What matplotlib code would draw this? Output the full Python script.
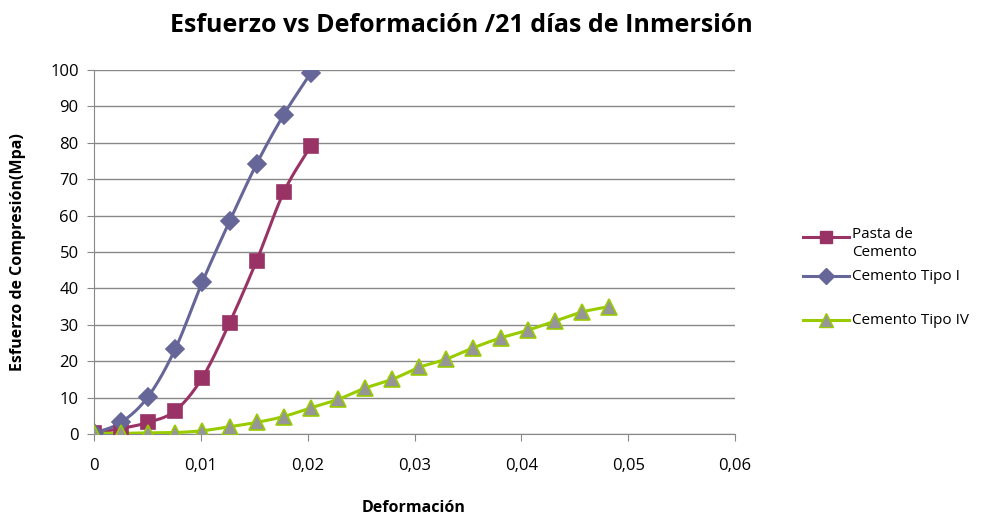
import numpy as np
import matplotlib.pyplot as plt
from matplotlib.lines import Line2D
from matplotlib.ticker import FuncFormatter

# Data
step = 0.002537
x_short = [i * step for i in range(9)]
x_long = [i * step for i in range(20)]

pasta = [0.2, 1.5, 3.2, 6.4, 15.5, 30.5, 47.6, 66.4, 79.2]
tipo_1 = [0.2, 3.2, 10.3, 23.4, 41.8, 58.4, 74.2, 87.7, 99.2]
tipo_4 = [0.2, 0.2, 0.3, 0.4, 0.9, 2.0, 3.2, 4.8, 7.2, 9.5,
          12.6, 15.0, 18.3, 20.6, 23.7, 26.4, 28.5, 31.0, 33.5, 35.0]

labels = ['Pasta de\nCemento', 'Cemento Tipo I', 'Cemento Tipo IV']


def smooth(x, y, n=20):
    # Catmull-Rom curve through the points, like Excel's smoothed line
    x = np.asarray(x, float)
    y = np.asarray(y, float)
    px = np.concatenate([[2 * x[0] - x[1]], x, [2 * x[-1] - x[-2]]])
    py = np.concatenate([[2 * y[0] - y[1]], y, [2 * y[-1] - y[-2]]])
    xs, ys = [], []
    t = np.linspace(0, 1, n, endpoint=False)
    for i in range(1, len(px) - 2):
        for p, out in ((px, xs), (py, ys)):
            p0, p1, p2, p3 = p[i - 1], p[i], p[i + 1], p[i + 2]
            out.extend(0.5 * ((2 * p1) + (-p0 + p2) * t
                              + (2 * p0 - 5 * p1 + 4 * p2 - p3) * t ** 2
                              + (-p0 + 3 * p1 - 3 * p2 + p3) * t ** 3))
    xs.append(x[-1])
    ys.append(y[-1])
    return xs, ys


plt.rcParams['font.family'] = ['Open Sans', 'DejaVu Sans']

W, H = 998, 520
fig = plt.figure(figsize=(W / 100, H / 100), dpi=100)
ax = fig.add_axes([94 / W, 86 / H, 641 / W, 364 / H])

pink = '#993366'
blue = '#666699'
green = '#99CC00'

series = [
    (x_short, pasta, pink, 's', pink, pink, 10),
    (x_short, tipo_1, blue, 'D', blue, blue, 9),
    (x_long, tipo_4, green, '^', '#969696', green, 12),
]
for xs, ys, c, m, fc, ec, ms in series:
    sx, sy = smooth(xs, ys)
    ax.plot(sx, sy, color=c, lw=2.2, zorder=3, solid_capstyle='round')
    ax.plot(xs, ys, linestyle='none', marker=m, markersize=ms,
            markerfacecolor=fc, markeredgecolor=ec, markeredgewidth=1.2, zorder=4)

ax.set_xlim(0, 0.06)
ax.set_ylim(0, 100)
ax.set_xticks(np.arange(0, 0.061, 0.01))
ax.set_yticks(range(0, 101, 10))
ax.xaxis.set_major_formatter(FuncFormatter(
    lambda v, p: '0' if v == 0 else ('%.2f' % v).replace('.', ',')))

ax.grid(axis='y', color='#888888', lw=1)
ax.set_axisbelow(True)
for s in ['top', 'right']:
    ax.spines[s].set_visible(False)
for s in ['left', 'bottom']:
    ax.spines[s].set_color('#888888')
ax.tick_params(axis='both', colors='#888888', labelcolor='black',
               labelsize=12, length=5, direction='out')
ax.tick_params(axis='x', pad=12)
ax.tick_params(axis='y', pad=6)

fig.text(461 / W, 1 - 25 / H, 'Esfuerzo vs Deformación /21 días de Inmersión',
         fontsize=18, fontweight='bold', ha='center', va='center')
fig.text(414 / W, 1 - 508 / H, 'Deformación', fontsize=11.5,
         fontweight='bold', ha='center', va='center')
fig.text(18 / W, 1 - 252 / H, 'Esfuerzo de Compresión(Mpa)', fontsize=11.5,
         fontweight='bold', ha='center', va='center', rotation=90)

# legend drawn by hand so the first marker sits on the first text line
leg_y = [237, 276, 320]
for (xs, ys, c, m, fc, ec, ms), lab, y in zip(series, labels, leg_y):
    fy = 1 - y / H
    fig.add_artist(Line2D([803 / W, 849 / W], [fy, fy], color=c, lw=2.2,
                          transform=fig.transFigure))
    fig.add_artist(Line2D([826 / W], [fy], marker=m, markersize=ms * 0.85,
                          markerfacecolor=fc, markeredgecolor=ec,
                          transform=fig.transFigure))
    if '\n' in lab:
        fig.text(852 / W, fy + 10 / H, lab, fontsize=11, va='top',
                 ha='left', linespacing=1.25)
    else:
        fig.text(852 / W, fy, lab, fontsize=11, va='center', ha='left')

fig.savefig('out.png', dpi=100)
